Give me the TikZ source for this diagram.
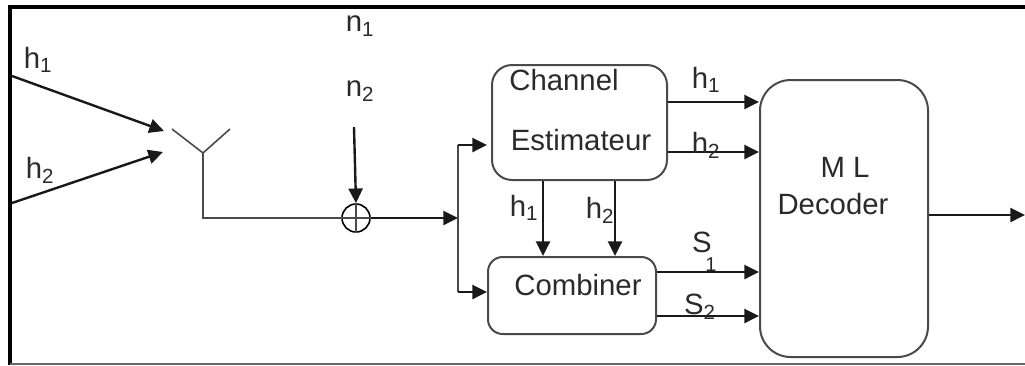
\documentclass[tikz,border=0pt]{standalone}
\usepackage{fontspec}
\setmainfont{Liberation Sans}
\usetikzlibrary{
    calc,
    arrows.meta
}
\definecolor{linegray}{HTML}{4A4A4A}
\definecolor{textgray}{HTML}{2A2A2A}
\tikzset{
    % blocks of the receiver
    block/.style={
        draw=linegray, line width=1.5pt, rounded corners=#1, inner sep=0pt
    },
    % arrows between the blocks
    link/.style={
        line width=1.8pt, black!90, -{Triangle[length=11pt, width=10.5pt]}
    },
    % plain wire
    wire/.style={
        line width=1.4pt, linegray
    },
    lab/.style={
        inner sep=0pt, text=textgray, font=\fontsize{22}{26}\selectfont
    }
}
\newcommand{\sublab}[2]{#1\textsubscript{#2}}
\begin{document}
\begin{tikzpicture}[x=0.75pt, y=-0.75pt]
            \useasboundingbox (0,0) rectangle (1025,365);
            % frame of the scan
            \coordinate (tl) at (10,7);
            \coordinate (tr) at (1025,7);
            \coordinate (bl) at (10,365);
            \coordinate (br) at (1025,364);
            \draw[line width=2.6pt] (bl) -- (tl) -- (tr);
            \draw[line width=.8pt, black!60] (bl |- br) -- (br);
            % blocks
            \node[block=15pt, minimum width=131.25pt, minimum height=86.25pt] (est) at (579.5,122.5) {};
            \node[block=11pt, minimum width=126pt, minimum height=57.75pt] (comb) at (572,295.5) {};
            \node[block=23pt, minimum width=126pt, minimum height=207.75pt] (dec) at (844,218.5) {};
            \node[circle, draw, line width=1.2pt, inner sep=0pt, minimum size=21pt] (sum) at (356,218) {};
            \draw[wire, line width=1pt] (sum.north) -- (sum.south);
            \draw[wire, line width=1pt] (sum.west) -- (sum.east);
            % antenna
            \coordinate (ant) at (203,153);
            \coordinate (antl) at (172,129);
            \coordinate (antr) at (230,129);
            \coordinate (bus) at (458,218);
            \coordinate (bustop) at (458,145);
            \coordinate (busbot) at (458,292);
            \draw[wire, line width=1.2pt] (antl) -- (ant) -- (antr);
            \draw[wire] (ant) |- (sum.west);
            % channels and noise
            \coordinate (hin1) at (12,76);
            \coordinate (hin2) at (12,203);
            \coordinate (hend1) at (164,131);
            \coordinate (hend2) at (163,152);
            \coordinate (nin) at (354,127);
            \coordinate (out) at (1025,215);
            \draw[link] (hin1) -- (hend1);
            \draw[link] (hin2) -- (hend2);
            \draw[link] (nin) -- (sum.north);
            \draw[link] (sum.east) -- (bus);
            % bus to the two blocks
            \draw[wire] (bustop) -- (busbot);
            \draw[link] (bustop) -- (bustop -| comb.west);
            \draw[link] (busbot) -- (comb.west |- busbot);
            % outputs, by height
            \coordinate (r1) at (0,102);
            \coordinate (r2) at (0,152);
            \coordinate (r3) at (0,272);
            \coordinate (r4) at (0,316);
            \coordinate (c1) at (543,0);
            \coordinate (c2) at (615,0);
            \foreach \r in {r1, r2} {
                \draw[link] (\r -| est.east) -- (\r -| dec.west);
            }
            \foreach \r in {r3, r4} {
                \draw[link] (\r -| comb.east) -- (\r -| dec.west);
            }
            \foreach \c in {c1, c2} {
                \draw[link] (\c |- est.south) -- (\c |- comb.north);
            }
            \draw[link] (dec.east |- out) -- (out);
            % labels
            \node[lab] (lh1) at (38,60) {\sublab{h}{1}};
            \node[lab] (lh2) at (40,170) {\sublab{h}{2}};
            \node[lab] (ln1) at (360,26) {\sublab{n}{1}};
            \node[lab] (ln2) at (360,91) {\sublab{n}{2}};
            \node[lab] (lchan) at (564,80) {Channel};
            \node[lab] (lesti) at (581,140) {Estimateur};
            \node[lab] (lcomb) at (578,285) {Combiner};
            \node[lab] (lml) at (845,167) {M L};
            \node[lab] (ldeco) at (833,204) {Decoder};
            \node[lab] (le1) at (706,80) {\sublab{h}{1}};
            \node[lab] (le2) at (706,145) {\sublab{h}{2}};
            \node[lab] (lc1) at (524,208) {\sublab{h}{1}};
            \node[lab] (lc2) at (600,210) {\sublab{h}{2}};
            \node[lab] (ls1) at (702,242) {S};
            \node[lab, font=\fontsize{15}{17}\selectfont] (ls1b) at (711,265) {1};
            \node[lab] (ls2) at (700,307) {\sublab{S}{2}};
        \end{tikzpicture}
\end{document}
